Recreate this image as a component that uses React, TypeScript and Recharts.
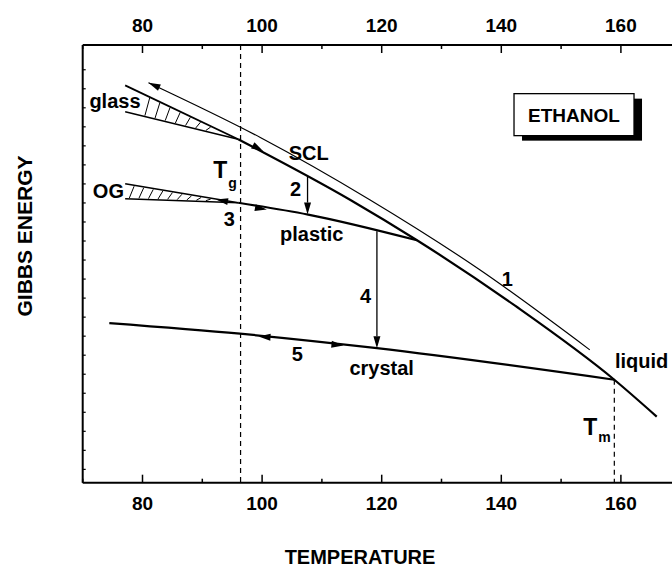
import React from "react";
import { LineChart, Line, XAxis, YAxis, ReferenceLine, ReferenceDot } from "recharts";

const FONT = "'Liberation Sans', Arial, Helvetica, sans-serif";

// axis ticks
const tempTicks = [70, 80, 90, 100, 110, 120, 130, 140, 150, 160, 170];
const tempLabels = [80, 100, 120, 140, 160];
const energyTicks = [0.7, 1.7, 2.7, 3.7, 4.7, 5.7, 6.7, 7.7, 8.7, 9.7, 10.7, 11.7, 12.7, 13.7, 14.7, 15.7, 16.7, 17.7, 18.7, 19.7, 20.7, 21.7];

// supercooled liquid / liquid branch (extrapolated part below Tg first)
const sclExtT = [77.1, 96.0];
const sclExtG = [20.88, 18.05];
const sclT = [96.0, 114.7, 125.9, 142.3, 158.9, 166.0];
const sclG = [18.05, 14.87, 12.74, 9.3, 5.41, 3.47];

// glass
const glassT = [77.1, 96.0];
const glassG = [19.49, 18.05];

// plastic crystal and its extrapolation below Tg
const plasticExtT = [77.1, 96.0];
const plasticExtG = [15.71, 14.71];
const plasticT = [96.0, 107.7, 125.9];
const plasticG = [14.71, 14.09, 12.74];

// orientational glass
const ogT = [77.1, 96.0];
const ogG = [14.92, 14.71];

// crystal
const crystalT = [74.45, 96.3, 119.2, 158.9];
const crystalG = [8.39, 7.83, 7.07, 5.41];

// path 1
const path1T = [81.0, 99.7, 118.0, 136.4, 154.8];
const path1G = [21.02, 18.14, 14.87, 11.19, 6.98];

// transition temperatures
const Tg = 96.4;
const Tm = 158.9;

// hatch positions
const glassHatchT = [80.4, 82.1, 83.8, 85.5, 87.2, 88.9, 90.6];
const ogHatchT = [77.8, 79.4, 81.0, 82.6, 84.2, 85.8, 87.4, 89.0, 90.6];

// arrows: from -> tip
const arrows = [
  { t1: 98.0, g1: 17.8, t2: 100.2, g2: 17.42, stem: false },
  { t1: 98.5, g1: 14.47, t2: 100.8, g2: 14.35, stem: false },
  { t1: 94.5, g1: 14.76, t2: 92.3, g2: 14.88, stem: false },
  { t1: 101.6, g1: 7.64, t2: 99.4, g2: 7.68, stem: false },
  { t1: 111.4, g1: 7.28, t2: 113.6, g2: 7.21, stem: false },
  { t1: 83.2, g1: 20.71, t2: 81.0, g2: 21.02, stem: false },
  { t1: 107.6, g1: 16.08, t2: 107.6, g2: 14.09, stem: true },
  { t1: 119.2, g1: 13.21, t2: 119.2, g2: 7.07, stem: true },
];

// text annotations
const labelText = ["glass", "OG", "SCL", "2", "3", "plastic", "4", "1", "5", "crystal", "liquid"];
const labelT = [75.4, 74.3, 107.8, 105.6, 94.5, 108.3, 117.3, 141.0, 105.9, 120.0, 159.0];
const labelG = [19.71, 14.97, 16.97, 15.05, 13.47, 12.72, 9.44, 10.32, 6.37, 5.67, 6.02];
const labelAnchor = ["middle", "middle", "middle", "middle", "middle", "middle", "middle", "middle", "middle", "middle", "start"];

const pts = (ts: number[], gs: number[]) => ts.map((t, i) => ({ t, g: gs[i] }));

const at = (ts: number[], gs: number[], t: number) => {
  const k = t <= ts[0] ? 0 : Math.min(ts.length - 2, ts.findIndex((v) => v >= t) - 1);
  const f = (t - ts[k]) / (ts[k + 1] - ts[k]);
  return gs[k] + f * (gs[k + 1] - gs[k]);
};

const hatch = (xs: number[], upT: number[], upG: number[], loT: number[], loG: number[]) =>
  xs.map((t) => [
    { x: t, y: at(loT, loG, t) + 0.05 },
    { x: t + 0.8, y: at(upT, upG, t + 0.8) - 0.05 },
  ]);

const glassHatch = hatch(glassHatchT, sclExtT, sclExtG, glassT, glassG);
const ogHatch = hatch(ogHatchT, plasticExtT, plasticExtG, ogT, ogG);

const arrowShape = (stem: boolean) => (p: any) => {
  const { x1, y1, x2, y2 } = p;
  const dx = x2 - x1;
  const dy = y2 - y1;
  const len = Math.hypot(dx, dy) || 1;
  const ux = dx / len;
  const uy = dy / len;
  const L = 12;
  const w = 3.5;
  const bx = x2 - ux * L;
  const by = y2 - uy * L;
  const poly = `${x2},${y2} ${bx - uy * w},${by + ux * w} ${bx + uy * w},${by - ux * w}`;
  return (
    <g>
      {stem && <line x1={x1} y1={y1} x2={bx} y2={by} stroke="#000" strokeWidth={1.3} />}
      <polygon points={poly} fill="#000" />
    </g>
  );
};

const BottomTick = (p: any) => {
  const { x, y, payload } = p;
  const major = tempLabels.includes(payload.value);
  return (
    <g>
      <line x1={x} x2={x} y1={y} y2={y - (major ? 8 : 4)} stroke="#000" strokeWidth={1.5} />
      {major && (
        <text x={x} y={y + 27} textAnchor="middle" fontFamily={FONT} fontWeight="bold" fontSize={19} fill="#000">
          {payload.value}
        </text>
      )}
    </g>
  );
};

const TopTick = (p: any) => {
  const { x, y, payload } = p;
  const major = tempLabels.includes(payload.value);
  return (
    <g>
      <line x1={x} x2={x} y1={y} y2={y + (major ? 8 : 4)} stroke="#000" strokeWidth={1.5} />
      {major && (
        <text x={x} y={y - 13} textAnchor="middle" fontFamily={FONT} fontWeight="bold" fontSize={19} fill="#000">
          {payload.value}
        </text>
      )}
    </g>
  );
};

const LeftTick = (p: any) => {
  const { x, y } = p;
  return <line x1={x} x2={x + 3} y1={y} y2={y} stroke="#000" strokeWidth={1.2} />;
};

const textShape = (text: string, anchor: string) => (p: any) => (
  <text x={p.cx} y={p.cy} textAnchor={anchor} fontFamily={FONT} fontWeight="bold" fontSize={20} fill="#000">
    {text}
  </text>
);

const subShape = (main: string, sub: string, dy: number) => (p: any) => (
  <text x={p.cx} y={p.cy} fontFamily={FONT} fontWeight="bold" fill="#000">
    <tspan fontSize={23}>{main}</tspan>
    <tspan fontSize={14} dx={1} dy={dy}>{sub}</tspan>
  </text>
);

const boxShape = (p: any) => {
  const { cx, cy } = p;
  return (
    <g>
      <rect x={cx - 60 + 8} y={cy - 21 + 5} width={120} height={42} fill="#000" />
      <rect x={cx - 60} y={cy - 21} width={120} height={42} fill="#fff" stroke="#000" strokeWidth={1.3} />
      <text x={cx} y={cy + 7} textAnchor="middle" fontFamily={FONT} fontWeight="bold" fontSize={19} fill="#000">
        ETHANOL
      </text>
    </g>
  );
};

export default function App() {
  const axisLine = { stroke: "#000", strokeWidth: 2 };
  return (
    <div style={{ position: "absolute", left: 0, top: 0, width: 672, height: 569, overflow: "hidden", background: "#fff" }}>
      <LineChart width={700} height={569} margin={{ top: 0, right: 19.3, bottom: 46.3, left: 22.7 }}>
        <XAxis
          xAxisId="b"
          dataKey="t"
          type="number"
          domain={[70, 170]}
          ticks={tempTicks}
          interval={0}
          height={40}
          tickSize={0}
          tickMargin={0}
          tickLine={false}
          axisLine={axisLine}
          tick={BottomTick}
          allowDataOverflow
        />
        <XAxis
          xAxisId="t"
          orientation="top"
          dataKey="t"
          type="number"
          domain={[70, 170]}
          ticks={tempTicks}
          interval={0}
          height={45}
          tickSize={0}
          tickMargin={0}
          tickLine={false}
          axisLine={axisLine}
          tick={TopTick}
          allowDataOverflow
        />
        <YAxis
          type="number"
          domain={[0, 23]}
          ticks={energyTicks}
          interval={0}
          width={60}
          tickSize={0}
          tickMargin={0}
          tickLine={false}
          axisLine={axisLine}
          tick={LeftTick}
        />

        <Line xAxisId="b" data={pts(sclExtT, sclExtG)} dataKey="g" type="linear" stroke="#000" strokeWidth={1.8} dot={false} isAnimationActive={false} />
        <Line xAxisId="b" data={pts(sclT, sclG)} dataKey="g" type="monotone" stroke="#000" strokeWidth={2.2} dot={false} isAnimationActive={false} />
        <Line xAxisId="b" data={pts(glassT, glassG)} dataKey="g" type="linear" stroke="#000" strokeWidth={1.4} dot={false} isAnimationActive={false} />
        <Line xAxisId="b" data={pts(plasticExtT, plasticExtG)} dataKey="g" type="linear" stroke="#000" strokeWidth={1.6} dot={false} isAnimationActive={false} />
        <Line xAxisId="b" data={pts(plasticT, plasticG)} dataKey="g" type="monotone" stroke="#000" strokeWidth={2.2} dot={false} isAnimationActive={false} />
        <Line xAxisId="b" data={pts(ogT, ogG)} dataKey="g" type="linear" stroke="#000" strokeWidth={1.4} dot={false} isAnimationActive={false} />
        <Line xAxisId="b" data={pts(crystalT, crystalG)} dataKey="g" type="monotone" stroke="#000" strokeWidth={2.2} dot={false} isAnimationActive={false} />
        <Line xAxisId="b" data={pts(path1T, path1G)} dataKey="g" type="monotone" stroke="#000" strokeWidth={1.2} dot={false} isAnimationActive={false} />

        {glassHatch.concat(ogHatch).map((seg, i) => (
          <ReferenceLine key={`h${i}`} xAxisId="b" segment={seg} stroke="#000" strokeWidth={1} />
        ))}

        <ReferenceLine xAxisId="b" segment={[{ x: Tg, y: at(sclExtT, sclExtG, Tg) }, { x: Tg, y: 0 }]} stroke="#000" strokeWidth={1.2} strokeDasharray="5 4" />
        <ReferenceLine xAxisId="b" segment={[{ x: Tm, y: at(crystalT, crystalG, Tm) }, { x: Tm, y: 0 }]} stroke="#000" strokeWidth={1.2} strokeDasharray="5 4" />

        {arrows.map((a, i) => (
          <ReferenceLine
            key={`a${i}`}
            xAxisId="b"
            segment={[{ x: a.t1, y: a.g1 }, { x: a.t2, y: a.g2 }]}
            shape={arrowShape(a.stem)}
          />
        ))}

        {labelText.map((s, i) => (
          <ReferenceDot key={`l${i}`} xAxisId="b" x={labelT[i]} y={labelG[i]} r={0} shape={textShape(s, labelAnchor[i])} />
        ))}
        <ReferenceDot xAxisId="b" x={91.84} y={16.02} r={0} shape={subShape("T", "g", 10)} />
        <ReferenceDot xAxisId="b" x={153.71} y={2.51} r={0} shape={subShape("T", "m", 7)} />
        <ReferenceDot xAxisId="b" x={152.16} y={19.34} r={0} shape={boxShape} />

        <text x={24} y={236} transform="rotate(-90 24 236)" textAnchor="middle" dy={7.5} fontFamily={FONT} fontWeight="bold" fontSize={21} fill="#000">
          GIBBS ENERGY
        </text>
        <text x={360} y={564} textAnchor="middle" fontFamily={FONT} fontWeight="bold" fontSize={20} fill="#000">
          TEMPERATURE
        </text>
      </LineChart>
    </div>
  );
}
